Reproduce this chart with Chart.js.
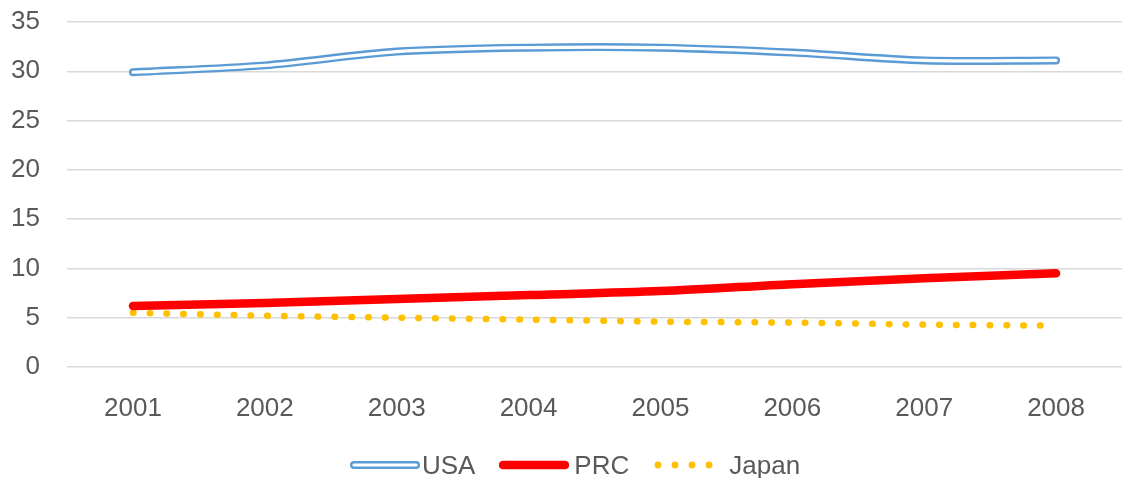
<!DOCTYPE html>
<html>
<head>
<meta charset="utf-8">
<script src="https://cdn.jsdelivr.net/npm/chart.js@4/dist/chart.umd.min.js"></script>
<style>
  html, body { margin: 0; padding: 0; background: #fff; }
  #wrap { position: relative; width: 1122px; height: 478px; }
  #legend {
    position: absolute; left: 28px; right: 0; top: 448px; height: 34px;
    display: flex; justify-content: center; align-items: center;
    font-family: "Liberation Sans", Arial, sans-serif; font-size: 26px; color: #595959;
  }
  .item { display: flex; align-items: center; margin: 0 12px; }
  .item svg { display: block; }
</style>
</head>
<body>
<div id="wrap">
  <canvas id="chart" width="1122" height="478"></canvas>
  <div id="legend"></div>
</div>
<script>
// Years on the category axis
const years = ['2001', '2002', '2003', '2004', '2005', '2006', '2007', '2008'];
// Series values
const usaValues = [29.9, 30.6, 32.0, 32.4, 32.4, 31.9, 31.1, 31.1];
const prcValues = [6.2, 6.5, 6.9, 7.3, 7.7, 8.4, 9.0, 9.5];
const japanValues = [5.5, 5.2, 5.0, 4.8, 4.6, 4.5, 4.3, 4.2];
// Value axis ticks
const yTicks = [0, 5, 10, 15, 20, 25, 30, 35];

const BLUE = '#5b9bd5', RED = '#ff0000', GOLD = '#ffc000', TEXT = '#595959', GRID = '#d9d9d9';
const FONT = { family: '"Liberation Sans", Arial, sans-serif', size: 26 };

new Chart(document.getElementById('chart'), {
  type: 'line',
  data: {
    labels: years,
    datasets: [
      // inner white stroke that turns the USA line into a double line
      { label: 'USA-inner', data: usaValues, borderColor: '#ffffff', borderWidth: 3.2,
        borderCapStyle: 'round', pointRadius: 0, tension: 0.3, order: 0 },
      { label: 'USA', data: usaValues, borderColor: BLUE, borderWidth: 8,
        borderCapStyle: 'round', pointRadius: 0, tension: 0.3, order: 1 },
      { label: 'PRC', data: prcValues, borderColor: RED, borderWidth: 8.5,
        borderCapStyle: 'round', pointRadius: 0, tension: 0.3, order: 2 },
      { label: 'Japan', data: japanValues, borderColor: GOLD, borderWidth: 6.5,
        borderCapStyle: 'round', borderDash: [0.5, 16.3], pointRadius: 0, tension: 0.3, order: 3 }
    ]
  },
  options: {
    responsive: false,
    maintainAspectRatio: false,
    animation: false,
    layout: { padding: { top: 22, right: 0, bottom: 51, left: 0 } },
    plugins: { legend: { display: false }, tooltip: { enabled: false } },
    scales: {
      x: {
        offset: true,
        grid: { display: false, drawTicks: false },
        border: { display: false },
        ticks: { color: TEXT, font: FONT, padding: 26, maxRotation: 0 },
        afterFit: s => { s.height = 60; s.paddingLeft = 0; s.paddingRight = 0; }
      },
      y: {
        min: 0, max: 35,
        afterBuildTicks: s => { s.ticks = yTicks.map(v => ({ value: v })); },
        grid: { color: GRID, lineWidth: 1.5, drawTicks: false },
        border: { display: false },
        ticks: { color: TEXT, font: FONT, padding: 27 },
        afterFit: s => { s.width = 67; s.paddingTop = 0; s.paddingBottom = 0; }
      }
    }
  }
});

// Legend built as real text with small line samples
const legendItems = [
  { name: 'USA', svg: '<svg width="70" height="14"><line x1="4" y1="7" x2="66" y2="7" stroke="' + BLUE + '" stroke-width="8" stroke-linecap="round"/><line x1="4" y1="7" x2="66" y2="7" stroke="#fff" stroke-width="3.2" stroke-linecap="round"/></svg>', gap: 2 },
  { name: 'PRC', svg: '<svg width="70" height="14"><line x1="4" y1="7" x2="66" y2="7" stroke="' + RED + '" stroke-width="8.5" stroke-linecap="round"/></svg>', gap: 5 },
  { name: 'Japan', svg: '<svg width="62" height="14"><g fill="' + GOLD + '"><circle cx="5" cy="7" r="3.4"/><circle cx="22" cy="7" r="3.4"/><circle cx="39" cy="7" r="3.4"/><circle cx="56" cy="7" r="3.4"/></g></svg>', gap: 14 }
];
const legend = document.getElementById('legend');
legendItems.forEach(it => {
  const d = document.createElement('div');
  d.className = 'item';
  d.innerHTML = it.svg + '<span style="margin-left:' + it.gap + 'px">' + it.name + '</span>';
  legend.appendChild(d);
});
</script>
</body>
</html>
